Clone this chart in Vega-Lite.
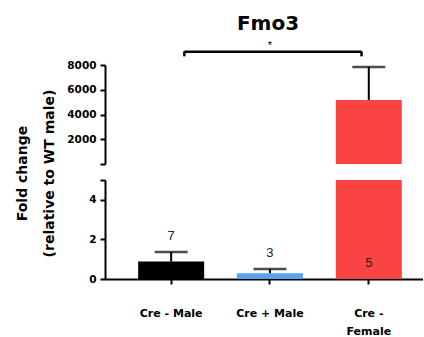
{
  "$schema": "https://vega.github.io/schema/vega-lite/v6.json",
  "padding": {"left": 14, "top": 14, "right": 0, "bottom": 2},
  "background": "white",
  "title": {"text": "Fmo3", "font": "DejaVu Sans", "fontSize": 20, "fontWeight": "bold", "color": "black", "anchor": "middle", "offset": 6, "dx": 49},
  "config": {
    "view": {"stroke": null},
    "font": "Liberation Sans",
    "axis": {"grid": false, "domainColor": "black", "domainWidth": 2, "tickColor": "black", "tickWidth": 2, "tickSize": 5, "labelColor": "black", "labelFont": "DejaVu Sans", "labelFontWeight": "bold", "labelFontSize": 10.5, "labelOverlap": false, "titleColor": "black", "titleFont": "DejaVu Sans", "titleFontWeight": "bold"}
  },
  "data": {"values": [
    {"group": "Cre - Male", "mean": 0.88, "upper": 1.36, "n": "7"},
    {"group": "Cre + Male", "mean": 0.29, "upper": 0.5, "n": "3"},
    {"group": "Cre - Female", "mean": 5170, "upper": 7840, "n": "5"}
  ]},
  "spacing": 16,
  "bounds": "flush",
  "vconcat": [
    {
      "width": 318,
      "height": 99,
      "encoding": {
        "x": {"field": "group", "type": "nominal", "sort": null, "axis": null,
              "scale": {"domain": ["Cre - Male", "Cre + Male", "Cre - Female"], "paddingInner": 0.332, "paddingOuter": 0.275, "align": 0.61}}
      },
      "layer": [
        {
          "transform": [{"filter": "datum.mean > 100"}],
          "mark": {"type": "bar", "clip": false},
          "encoding": {
            "y": {"field": "mean", "type": "quantitative",
                  "scale": {"domain": [0, 8000], "nice": false, "zero": true},
                  "axis": {"values": [0, 2000, 4000, 6000, 8000], "format": "d", "labelExpr": "datum.value == 0 ? '' : datum.label", "title": null, "labelPadding": 4}},
            "color": {"field": "group", "type": "nominal", "legend": null,
                      "scale": {"domain": ["Cre - Male", "Cre + Male", "Cre - Female"], "range": ["#000000", "#5ba0f0", "#fa4343"]}}
          }
        },
        {
          "transform": [{"filter": "datum.mean > 100"}],
          "mark": {"type": "rule", "color": "black", "strokeWidth": 2},
          "encoding": {"y": {"field": "mean", "type": "quantitative",
                  "axis": {"values": [0, 2000, 4000, 6000, 8000], "format": "d", "labelExpr": "datum.value == 0 ? '' : datum.label", "title": null, "labelPadding": 4}},
                       "y2": {"field": "upper"}}
        },
        {
          "transform": [{"filter": "datum.mean > 100"}],
          "mark": {"type": "tick", "color": "black", "size": 33, "thickness": 2.5, "orient": "horizontal"},
          "encoding": {"y": {"field": "upper", "type": "quantitative",
                  "axis": {"values": [0, 2000, 4000, 6000, 8000], "format": "d", "labelExpr": "datum.value == 0 ? '' : datum.label", "title": null, "labelPadding": 4}}}
        },
        {
          "data": {"values": [{"from": "Cre - Male", "to": "Cre - Female", "sig": "*"}]},
          "mark": {"type": "rule", "color": "black", "strokeWidth": 2.5, "clip": false},
          "encoding": {
            "x": {"field": "from", "type": "nominal", "bandPosition": 0.7, "axis": null},
            "x2": {"field": "to", "bandPosition": 0.39},
            "y": {"datum": 9075, "type": "quantitative",
                  "axis": {"values": [0, 2000, 4000, 6000, 8000], "format": "d", "labelExpr": "datum.value == 0 ? '' : datum.label", "title": null, "labelPadding": 4}}
          }
        },
        {
          "data": {"values": [{"from": "Cre - Male", "to": "Cre - Female", "sig": "*"}]},
          "mark": {"type": "rule", "color": "black", "strokeWidth": 2.5, "clip": false},
          "encoding": {
            "x": {"field": "from", "type": "nominal", "bandPosition": 0.7, "axis": null},
            "y": {"datum": 9100, "type": "quantitative",
                  "axis": {"values": [0, 2000, 4000, 6000, 8000], "format": "d", "labelExpr": "datum.value == 0 ? '' : datum.label", "title": null, "labelPadding": 4}},
            "y2": {"datum": 8700}
          }
        },
        {
          "data": {"values": [{"from": "Cre - Male", "to": "Cre - Female", "sig": "*"}]},
          "mark": {"type": "rule", "color": "black", "strokeWidth": 2.5, "clip": false},
          "encoding": {
            "x": {"field": "to", "type": "nominal", "bandPosition": 0.39, "axis": null},
            "y": {"datum": 9100, "type": "quantitative",
                  "axis": {"values": [0, 2000, 4000, 6000, 8000], "format": "d", "labelExpr": "datum.value == 0 ? '' : datum.label", "title": null, "labelPadding": 4}},
            "y2": {"datum": 8700}
          }
        },
        {
          "data": {"values": [{"from": "Cre - Male", "to": "Cre - Female", "mid": "Cre + Male", "sig": "*"}]},
          "mark": {"type": "text", "fontSize": 11, "color": "black", "baseline": "middle", "clip": false},
          "encoding": {
            "x": {"field": "mid", "type": "nominal", "axis": null},
            "y": {"datum": 9500, "type": "quantitative",
                  "axis": {"values": [0, 2000, 4000, 6000, 8000], "format": "d", "labelExpr": "datum.value == 0 ? '' : datum.label", "title": null, "labelPadding": 4}},
            "text": {"field": "sig"}
          }
        }
      ]
    },
    {
      "width": 318,
      "height": 99,
      "encoding": {
        "x": {"field": "group", "type": "nominal", "sort": null,
              "scale": {"domain": ["Cre - Male", "Cre + Male", "Cre - Female"], "paddingInner": 0.332, "paddingOuter": 0.275, "align": 0.61},
              "axis": {"title": null, "labelAngle": 0, "labelPadding": 23, "labelFontSize": 11, "labelLineHeight": 18, "labelBaseline": "top",
                       "labelExpr": "datum.value == 'Cre - Female' ? ['Cre -', 'Female'] : datum.label"}}
      },
      "layer": [
        {
          "mark": {"type": "bar"},
          "encoding": {
            "y": {"field": "mean", "type": "quantitative",
                  "scale": {"domain": [0, 5], "nice": false, "clamp": true},
                  "axis": {"values": [0, 2, 4, 5], "labelExpr": "datum.value == 5 ? '' : datum.label", "labelPadding": 4,
                           "title": ["Fold change", "(relative to WT male)"], "titleFontSize": 14, "titleLineHeight": 27,
                           "titleX": -83, "titleY": -7, "titleAngle": -90, "titleAlign": "center", "titleBaseline": "middle"}},
            "color": {"field": "group", "type": "nominal", "legend": null,
                      "scale": {"domain": ["Cre - Male", "Cre + Male", "Cre - Female"], "range": ["#000000", "#5ba0f0", "#fa4343"]}}
          }
        },
        {
          "transform": [{"filter": "datum.mean < 100"}],
          "mark": {"type": "rule", "color": "black", "strokeWidth": 2},
          "encoding": {"y": {"field": "mean", "type": "quantitative",
                  "axis": {"values": [0, 2, 4, 5], "labelExpr": "datum.value == 5 ? '' : datum.label", "labelPadding": 4,
                           "title": ["Fold change", "(relative to WT male)"], "titleFontSize": 14, "titleLineHeight": 27,
                           "titleX": -83, "titleY": -7, "titleAngle": -90, "titleAlign": "center", "titleBaseline": "middle"}},
                       "y2": {"field": "upper"}}
        },
        {
          "transform": [{"filter": "datum.mean < 100"}],
          "mark": {"type": "tick", "color": "black", "size": 33, "thickness": 2.5, "orient": "horizontal"},
          "encoding": {"y": {"field": "upper", "type": "quantitative",
                  "axis": {"values": [0, 2, 4, 5], "labelExpr": "datum.value == 5 ? '' : datum.label", "labelPadding": 4,
                           "title": ["Fold change", "(relative to WT male)"], "titleFontSize": 14, "titleLineHeight": 27,
                           "titleX": -83, "titleY": -7, "titleAngle": -90, "titleAlign": "center", "titleBaseline": "middle"}}}
        },
        {
          "transform": [{"filter": "datum.mean < 100"}],
          "mark": {"type": "text", "fontSize": 13, "color": "#222222", "baseline": "middle", "dy": -16.5},
          "encoding": {"y": {"field": "upper", "type": "quantitative",
                  "axis": {"values": [0, 2, 4, 5], "labelExpr": "datum.value == 5 ? '' : datum.label", "labelPadding": 4,
                           "title": ["Fold change", "(relative to WT male)"], "titleFontSize": 14, "titleLineHeight": 27,
                           "titleX": -83, "titleY": -7, "titleAngle": -90, "titleAlign": "center", "titleBaseline": "middle"}},
                       "text": {"field": "n"}}
        },
        {
          "transform": [{"filter": "datum.mean > 100"}],
          "mark": {"type": "text", "fontSize": 13, "color": "#222222", "baseline": "middle", "dy": -16},
          "encoding": {"y": {"datum": 0, "type": "quantitative",
                  "axis": {"values": [0, 2, 4, 5], "labelExpr": "datum.value == 5 ? '' : datum.label", "labelPadding": 4,
                           "title": ["Fold change", "(relative to WT male)"], "titleFontSize": 14, "titleLineHeight": 27,
                           "titleX": -83, "titleY": -7, "titleAngle": -90, "titleAlign": "center", "titleBaseline": "middle"}},
                       "text": {"field": "n"}}
        }
      ]
    }
  ]
}
